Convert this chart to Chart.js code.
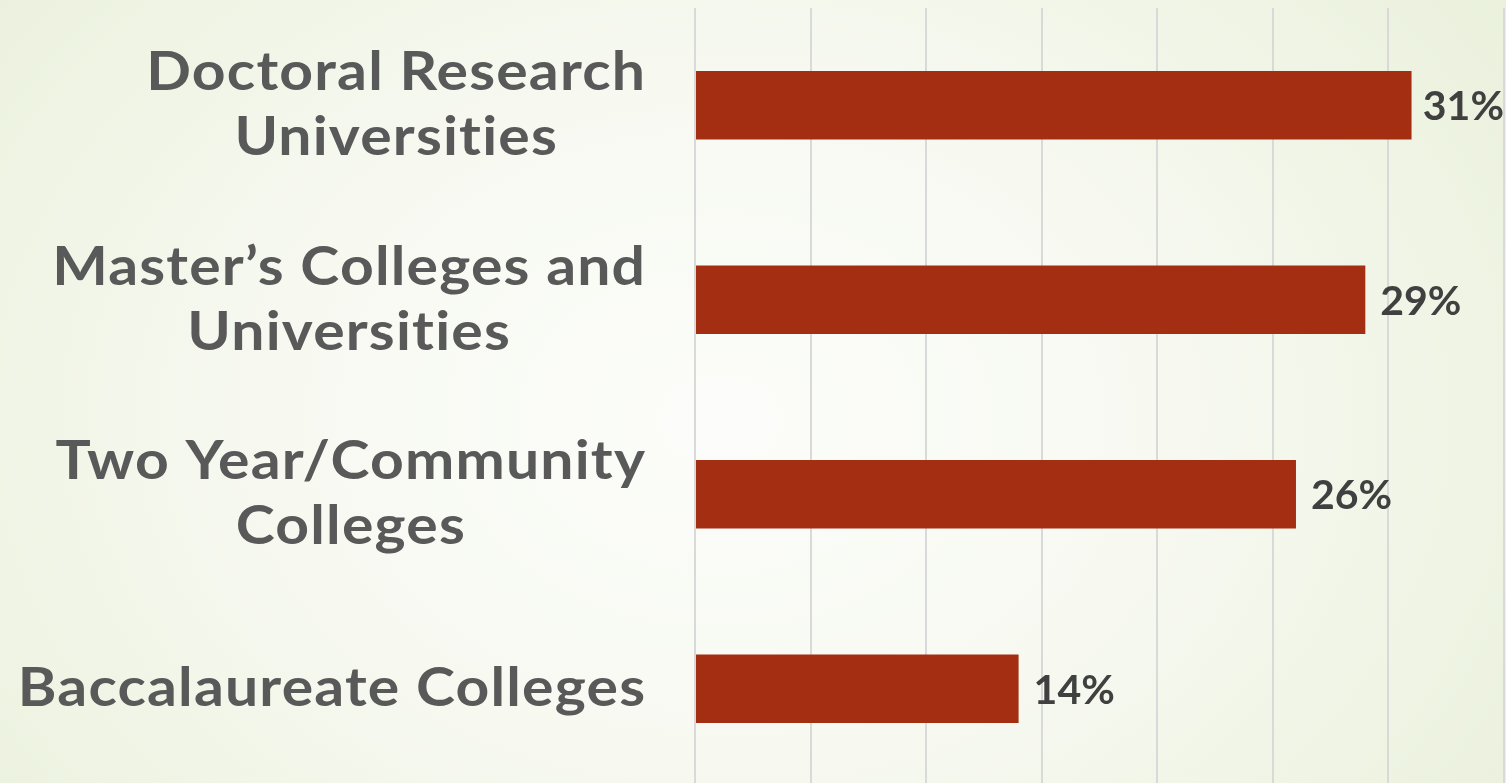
<!DOCTYPE html>
<html>
<head>
<meta charset="utf-8">
<script src="https://cdn.jsdelivr.net/npm/chart.js@4.4.1/dist/chart.umd.min.js"></script>
<style>
  html, body { margin: 0; padding: 0; width: 1506px; height: 783px; overflow: hidden; }
  body { background: radial-gradient(ellipse 1000px 760px at 720px 420px, #fcfdfa 0%, #f7f9f1 45%, #e9f0da 100%); }
  #wrap { position: relative; width: 1506px; height: 786px; }
</style>
</head>
<body>
<div id="wrap"><canvas id="chart"></canvas></div>
<script>
// Institution types (each entry is a list of label lines) and their shares in percent
const categories = [
  ['Doctoral Research', 'Universities'],
  ['Master\u2019s Colleges and', 'Universities'],
  ['Two Year/Community', 'Colleges'],
  ['Baccalaureate Colleges']
];
const shares = [31, 29, 26, 14];
const axisMin = 0;
const axisMax = 35;
const axisStep = 5;

const BAR_COLOR = '#a32e12';
const CAT_FONT = 'bold 54px Lato, "Open Sans", sans-serif';
const CAT_SPACING = 1.1;
const CAT_STRETCH = 1.09;
const VAL_FONT = 'bold 41px Lato, "Open Sans", sans-serif';
const VAL_SPACING = 0;

// Width of a line of text with letter spacing (trailing gap excluded)
function spacedWidth(ctx, text, spacing) {
  ctx.letterSpacing = spacing + 'px';
  return ctx.measureText(text).width - spacing;
}

// Category labels: right-aligned block, lines centred on each other, slightly widened glyphs
const categoryLabels = {
  id: 'categoryLabels',
  afterDraw(chart) {
    const ctx = chart.ctx;
    const y = chart.scales.y;
    const rightEdge = chart.chartArea.left - 50;
    const lineH = 65;
    ctx.save();
    ctx.font = CAT_FONT;
    ctx.fillStyle = '#595959';
    ctx.textAlign = 'left';
    ctx.textBaseline = 'middle';
    categories.forEach((lines, i) => {
      const cy = y.getPixelForValue(i);
      const widths = lines.map(l => spacedWidth(ctx, l, CAT_SPACING) * CAT_STRETCH);
      const w = Math.max(...widths);
      const cx = rightEdge - w / 2;
      const top = cy - (lines.length - 1) * lineH / 2;
      lines.forEach((l, j) => {
        ctx.save();
        ctx.translate(cx - widths[j] / 2, top + j * lineH);
        ctx.scale(CAT_STRETCH, 1);
        ctx.fillText(l, 0, 0);
        ctx.restore();
      });
    });
    ctx.restore();
  }
};

// Value labels just past the end of each bar, kept inside the canvas
const valueLabels = {
  id: 'valueLabels',
  afterDatasetsDraw(chart) {
    const ctx = chart.ctx;
    const meta = chart.getDatasetMeta(0);
    ctx.save();
    ctx.font = VAL_FONT;
    ctx.fillStyle = '#404040';
    ctx.textAlign = 'left';
    ctx.textBaseline = 'middle';
    meta.data.forEach((bar, i) => {
      const text = shares[i] + '%';
      const w = spacedWidth(ctx, text, VAL_SPACING);
      const x = Math.min(bar.x + 15, chart.width - 2 - w);
      ctx.fillText(text, x, bar.y + 2);
    });
    ctx.restore();
  }
};

new Chart(document.getElementById('chart'), {
  type: 'bar',
  data: {
    labels: categories,
    datasets: [{
      data: shares,
      backgroundColor: BAR_COLOR,
      borderWidth: 0,
      categoryPercentage: 1,
      barPercentage: 0.353
    }]
  },
  options: {
    indexAxis: 'y',
    responsive: true,
    maintainAspectRatio: false,
    animation: false,
    layout: { padding: { left: 695, right: 2, top: 8, bottom: 0 } },
    plugins: { legend: { display: false }, tooltip: { enabled: false } },
    scales: {
      x: {
        min: axisMin,
        max: axisMax,
        ticks: { display: false, stepSize: axisStep },
        grid: { color: '#d9d9d9', lineWidth: 2, drawTicks: false },
        border: { display: false }
      },
      y: {
        ticks: { display: false },
        grid: { display: false, drawTicks: false },
        border: { display: false }
      }
    }
  },
  plugins: [categoryLabels, valueLabels]
});
</script>
</body>
</html>
